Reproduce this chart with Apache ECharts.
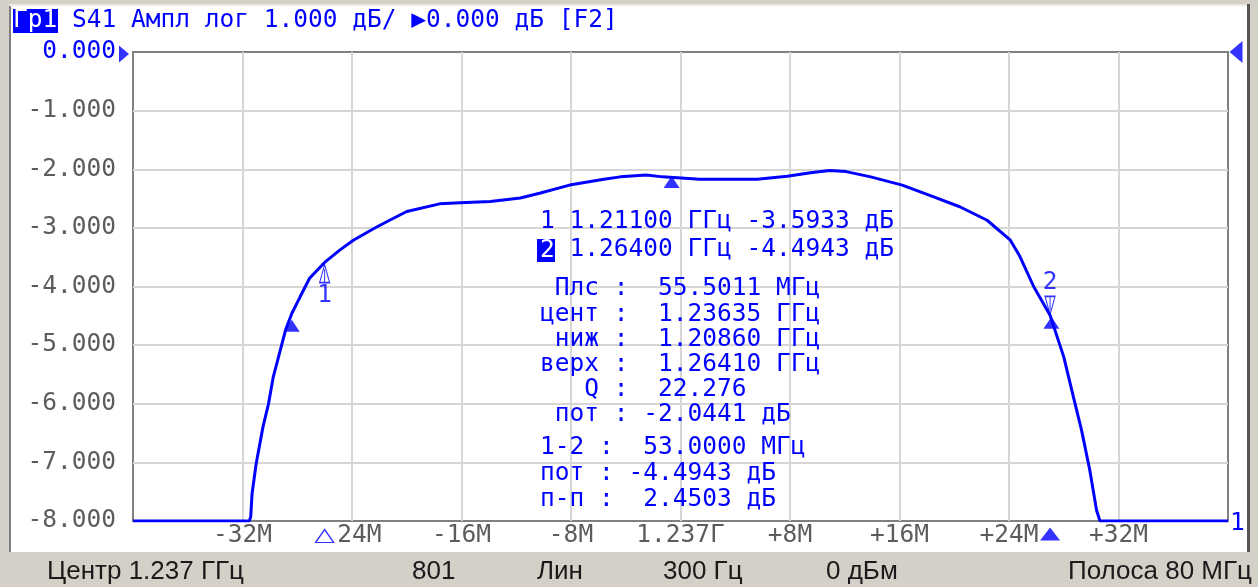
<!DOCTYPE html>
<html>
<head>
<meta charset="utf-8">
<script src="https://cdn.jsdelivr.net/npm/echarts@6/dist/echarts.min.js"></script>
<style>
html,body{margin:0;padding:0;background:#d4d0c8;}
#chart{width:1258px;height:587px;}
</style>
</head>
<body>
<div id="chart"></div>
<script>
// trace S41, offset from 1.237 GHz in MHz / dB
var freq = [-40, -31.5, -31.4, -31.3, -31.0, -30.5, -30.1, -29.75, -29.3, -28.85, -28.4, -27.8, -27.1, -26.0,
  -24.9, -23.9, -22.4, -21.5, -20.0, -17.6, -16.1, -13.9, -11.7, -10.3, -8.1, -5.6, -4.4, -2.5, -1.3,
  1.4, 5.6, 7.8, 9.5, 10.9, 12.1, 13.9, 16.2, 18.5, 20.4, 22.4, 24.1, 24.8, 25.8, 27.0, 28.0, 28.7,
  29.3, 29.9, 30.4, 30.65, 40];
var level = [-8, -8, -7.93, -7.53, -7.02, -6.39, -6.0, -5.54, -5.14, -4.74, -4.46, -4.18, -3.86, -3.59,
  -3.38, -3.21, -3.01, -2.9, -2.72, -2.59, -2.57, -2.55, -2.49, -2.41, -2.27, -2.17, -2.13, -2.10, -2.13,
  -2.17, -2.17, -2.12, -2.06, -2.02, -2.04, -2.13, -2.27, -2.47, -2.64, -2.87, -3.21, -3.49, -4.0, -4.49, -5.2, -5.88,
  -6.45, -7.13, -7.82, -8, -8];

// markers
var bwFreq = [-28.4, -0.65, 27.1];
var bwLevel = [-4.6, -2.15, -4.55];
var mk1 = [-26, -3.5933];
var mk2 = [27, -4.4943];

var xTicks = {'-32': '-32M', '-24': ' 24M', '-16': '-16M', '-8': '-8M', '0': '1.237Г',
  '8': '+8M', '16': '+16M', '24': '+24M', '32': '+32M'};

var header = 'S41 Ампл лог 1.000 дБ/ \u25B60.000 дБ [F2]';
var mkLines = [
  '1 1.21100 ГГц -3.5933 дБ',
  '  1.26400 ГГц -4.4943 дБ'
];
var statLines = [
  ' Плс :  55.5011 МГц',
  'цент :  1.23635 ГГц',
  ' ниж :  1.20860 ГГц',
  'верх :  1.26410 ГГц',
  '   Q :  22.276',
  ' пот : -2.0441 дБ'
];
var deltaLines = [
  '1-2 :  53.0000 МГц',
  'пот : -4.4943 дБ',
  'п-п :  2.4503 дБ'
];
var statusBar = ['Центр 1.237 ГГц', '801', 'Лин', '300 Гц', '0 дБм', 'Полоса 80 МГц'];
var statusX = [47, 412, 537, 663, 826, null];

var mono = 'DejaVu Sans Mono';
var fs = 24.5;
var blue = '#0000ff';
var grey = '#5c5c5c';

var trace = [];
for (var i = 0; i < freq.length; i++) trace.push([freq[i], level[i]]);
var bw = [];
for (var i = 0; i < bwFreq.length; i++) bw.push([bwFreq[i], bwLevel[i]]);

var upTri = 'path://M5,0 L10,16 L0,16 Z M5,4 L5,16';
var dnTri = 'path://M0,0 L10,0 L5,16 Z M5,0 L5,12';

var graphics = [
  {type: 'rect', shape: {x: 11, y: 6, width: 1236, height: 546}, style: {fill: '#ffffff'}, z: -10, silent: true},
  {type: 'rect', shape: {x: 9, y: 6, width: 2, height: 546}, style: {fill: '#808080'}, z: -9},
  {type: 'rect', shape: {x: 1247, y: 4, width: 3, height: 548}, style: {fill: '#555555'}, z: -9},
  {type: 'rect', shape: {x: 9, y: 4, width: 1238, height: 2}, style: {fill: '#ece9e0'}, z: -9},
  {type: 'rect', shape: {x: 13, y: 9, width: 45, height: 24}, style: {fill: blue}},
  {type: 'text', x: 13, y: 21, style: {text: 'Гр1', font: fs + 'px "' + mono + '"', fill: '#ffffff', verticalAlign: 'middle'}},
  {type: 'text', x: 72, y: 21, style: {text: header, font: fs + 'px "' + mono + '"', fill: blue, verticalAlign: 'middle'}},
  {type: 'rect', shape: {x: 537, y: 239, width: 18, height: 23}, style: {fill: blue}, z: 20},
  {type: 'text', x: 540, y: 251, z: 21, style: {text: '2', font: fs + 'px "' + mono + '"', fill: '#ffffff', verticalAlign: 'middle'}}
];
var rowsY = [222, 250];
mkLines.forEach(function (t, k) {
  graphics.push({type: 'text', x: 540, y: rowsY[k], z: 20, style: {text: t, font: fs + 'px "' + mono + '"', fill: blue, verticalAlign: 'middle'}});
});
statLines.forEach(function (t, k) {
  graphics.push({type: 'text', x: 540, y: 289 + k * 25.2, z: 20, style: {text: t, font: fs + 'px "' + mono + '"', fill: blue, verticalAlign: 'middle'}});
});
deltaLines.forEach(function (t, k) {
  graphics.push({type: 'text', x: 540, y: 448 + k * 26, z: 20, style: {text: t, font: fs + 'px "' + mono + '"', fill: blue, verticalAlign: 'middle'}});
});
statusBar.forEach(function (t, k) {
  var st = {text: t, font: '26px "Liberation Sans"', fill: '#1a1a1a', verticalAlign: 'middle'};
  if (statusX[k] === null) {
    st.align = 'right';
    graphics.push({type: 'text', x: 1252, y: 572, style: st});
  } else {
    graphics.push({type: 'text', x: statusX[k], y: 572, style: st});
  }
});

var dom = document.getElementById('chart');
var myChart = echarts.init(dom);
var option = {
  backgroundColor: '#d4d0c8',
  animation: false,
  grid: {left: 133, right: 30, top: 52, bottom: 66, show: true, borderColor: '#808080', borderWidth: 2, backgroundColor: '#ffffff'},
  xAxis: {
    type: 'value', min: -40, max: 40, interval: 8,
    axisLine: {show: false}, axisTick: {show: false},
    splitLine: {show: true, showMinLine: false, showMaxLine: false, lineStyle: {color: '#d6d6d6', width: 2}},
    axisLabel: {
      margin: 2, showMinLabel: false, showMaxLabel: false,
      fontFamily: mono, fontSize: fs, color: grey,
      formatter: function (v) { return xTicks[String(v)] || ''; }
    }
  },
  yAxis: {
    type: 'value', min: -8, max: 0, interval: 1,
    axisLine: {show: false}, axisTick: {show: false},
    splitLine: {show: true, showMinLine: false, showMaxLine: false, lineStyle: {color: '#d6d6d6', width: 2}},
    axisLabel: {
      margin: 17, fontFamily: mono, fontSize: fs,
      color: function (v) { return Number(v) === 0 ? blue : grey; },
      formatter: function (v) { return v.toFixed(3); }
    }
  },
  series: [
    {
      name: 'S41', type: 'line', data: trace, showSymbol: false, z: 5,
      lineStyle: {color: blue, width: 3}, itemStyle: {color: blue},
      endLabel: {show: true, formatter: '1', color: blue, fontFamily: mono, fontSize: fs, distance: 2, offset: [0, 3]}
    },
    {
      type: 'scatter', data: bw, symbol: 'triangle', symbolSize: [16, 12], symbolOffset: [0, 4], z: 6,
      itemStyle: {color: blue}
    },
    {
      type: 'scatter', data: [mk1], symbol: upTri, symbolSize: [10, 18], symbolOffset: [0, 11], z: 6,
      itemStyle: {color: 'rgba(0,0,0,0)', borderColor: blue, borderWidth: 1.3},
      label: {show: true, formatter: '1', position: 'bottom', distance: 0, color: blue, fontFamily: mono, fontSize: fs}
    },
    {
      type: 'scatter', data: [mk2], symbol: dnTri, symbolSize: [10, 18], symbolOffset: [0, -10], z: 6,
      itemStyle: {color: 'rgba(0,0,0,0)', borderColor: blue, borderWidth: 1.3},
      label: {show: true, formatter: '2', position: 'top', distance: 0, color: blue, fontFamily: mono, fontSize: fs}
    },
    {
      type: 'scatter', clip: false, data: [[mk1[0], -8]], symbol: 'triangle', symbolSize: [18, 13], symbolOffset: [0, 15], z: 7,
      itemStyle: {color: '#ffffff', borderColor: blue, borderWidth: 1.3}
    },
    {
      type: 'scatter', clip: false, data: [[mk2[0], -8]], symbol: 'triangle', symbolSize: [20, 13], symbolOffset: [0, 13], z: 7,
      itemStyle: {color: blue}
    },
    {
      type: 'scatter', clip: false, data: [[-40, 0]], symbol: 'triangle', symbolRotate: -90, symbolSize: [17, 10], symbolOffset: [-9, 2], z: 7,
      itemStyle: {color: blue}
    },
    {
      type: 'scatter', clip: false, data: [[40, 0]], symbol: 'triangle', symbolRotate: 90, symbolSize: [22, 13], symbolOffset: [8, 0], z: 7,
      itemStyle: {color: blue}
    }
  ],
  graphic: graphics
};
if (option && typeof option === "object") {
  myChart.setOption(option, true);
}
</script>
</body>
</html>
